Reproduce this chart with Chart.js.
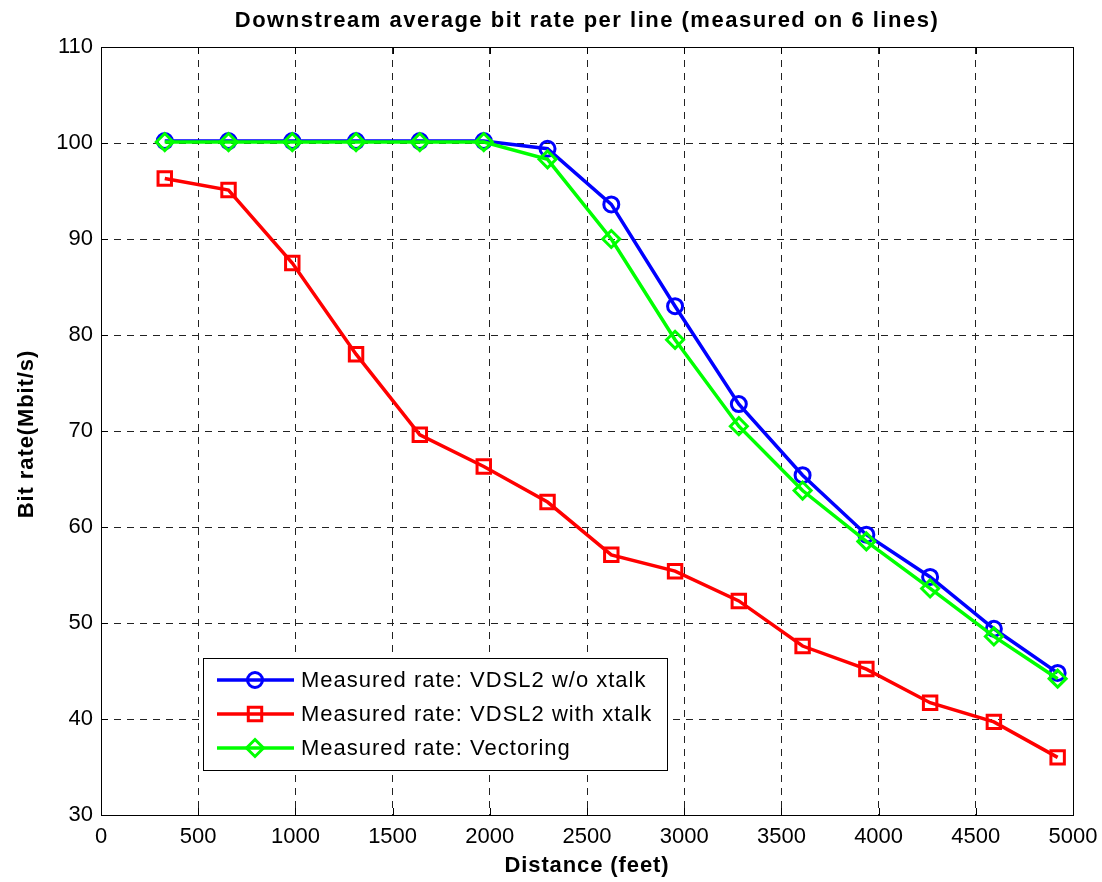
<!DOCTYPE html>
<html>
<head>
<meta charset="utf-8">
<script src="https://cdn.jsdelivr.net/npm/chart.js@4"></script>
<style>
  html, body { margin: 0; padding: 0; background: #fff; }
  #wrap { width: 1102px; height: 882px; }
</style>
</head>
<body>
<div id="wrap"><canvas id="c" width="1102" height="882"></canvas></div>
<script>
const distances = [328, 656, 984, 1312, 1640, 1969, 2297, 2625, 2953, 3281, 3609, 3937, 4265, 4593, 4921];
const rateNoXtalk = [100.2, 100.2, 100.2, 100.2, 100.2, 100.2, 99.4, 93.6, 83.0, 72.8, 65.4, 59.2, 54.8, 49.4, 44.8];
const rateWithXtalk = [96.3, 95.1, 87.5, 78.0, 69.6, 66.3, 62.6, 57.1, 55.4, 52.3, 47.6, 45.2, 41.7, 39.7, 36.0];
const rateVectoring = [100.1, 100.1, 100.1, 100.1, 100.1, 100.1, 98.3, 90.0, 79.5, 70.5, 63.8, 58.5, 53.6, 48.6, 44.2];
const seriesLabels = ['Measured rate: VDSL2 w/o xtalk', 'Measured rate: VDSL2 with xtalk', 'Measured rate: Vectoring'];
const titleText = 'Downstream average bit rate per line (measured on 6 lines)';
const xTitle = 'Distance (feet)';
const yTitle = 'Bit rate(Mbit/s)';

const FONT = "'Liberation Sans', Arial, Helvetica, sans-serif";

function pts(ys) { return distances.map((x, i) => ({x: x, y: ys[i]})); }

function setSpacing(ctx, px) { if ('letterSpacing' in ctx) ctx.letterSpacing = px + 'px'; }

function drawMarker(ctx, style, x, y, r, color) {
  ctx.save();
  ctx.strokeStyle = color;
  ctx.lineWidth = 3;
  ctx.beginPath();
  if (style === 'circle') {
    ctx.arc(x, y, r, 0, Math.PI * 2);
  } else if (style === 'rect') {
    const s = r * Math.SQRT1_2;
    ctx.rect(x - s, y - s, 2 * s, 2 * s);
  } else {
    ctx.moveTo(x, y - r); ctx.lineTo(x + r, y); ctx.lineTo(x, y + r); ctx.lineTo(x - r, y); ctx.closePath();
  }
  ctx.stroke();
  ctx.restore();
}

const framePlugin = {
  id: 'frame',
  afterDatasetsDraw(chart) {
    const {ctx, chartArea: a, scales} = chart;
    ctx.save();
    ctx.strokeStyle = '#000';
    ctx.lineWidth = 1;
    ctx.setLineDash([]);
    ctx.beginPath();
    const tl = 7;
    scales.x.ticks.forEach(t => {
      const px = Math.round(scales.x.getPixelForValue(t.value)) + 0.5;
      ctx.moveTo(px, a.bottom); ctx.lineTo(px, a.bottom - tl);
      ctx.moveTo(px, a.top); ctx.lineTo(px, a.top + tl);
    });
    scales.y.ticks.forEach(t => {
      const py = Math.round(scales.y.getPixelForValue(t.value)) + 0.5;
      ctx.moveTo(a.left, py); ctx.lineTo(a.left + tl, py);
      ctx.moveTo(a.right, py); ctx.lineTo(a.right - tl, py);
    });
    ctx.stroke();
    ctx.strokeRect(Math.round(a.left) + 0.5, Math.round(a.top) + 0.5, Math.round(a.right - a.left), Math.round(a.bottom - a.top));
    ctx.restore();
  },
  afterDraw(chart) {
    const {ctx, chartArea: a} = chart;
    const cx = (a.left + a.right) / 2;
    ctx.save();
    ctx.fillStyle = '#000';
    ctx.textAlign = 'center';
    ctx.textBaseline = 'middle';
    // chart title
    ctx.font = 'bold 22px ' + FONT;
    setSpacing(ctx, 1.5);
    ctx.fillText(titleText, cx, 21);
    // axis titles
    setSpacing(ctx, 0.9);
    ctx.fillText(xTitle, cx, 866);
    ctx.save();
    ctx.translate(27, (a.top + a.bottom) / 2 + 3);
    ctx.rotate(-Math.PI / 2);
    ctx.fillText(yTitle, 0, 0);
    ctx.restore();
    ctx.restore();

    // legend
    const bx = a.left + 102, by = a.bottom - 157, bw = 464, bh = 112;
    ctx.save();
    ctx.fillStyle = '#fff';
    ctx.fillRect(bx, by, bw, bh);
    ctx.strokeStyle = '#000';
    ctx.lineWidth = 1;
    ctx.strokeRect(Math.round(bx) + 0.5, Math.round(by) + 0.5, bw, bh);
    ctx.font = '22px ' + FONT;
    setSpacing(ctx, 1.0);
    ctx.textBaseline = 'middle';
    chart.data.datasets.forEach((ds, i) => {
      const cy = by + 22 + i * 34;
      ctx.strokeStyle = ds.borderColor;
      ctx.lineWidth = 3.5;
      ctx.beginPath();
      ctx.moveTo(bx + 14, cy); ctx.lineTo(bx + 91, cy);
      ctx.stroke();
      drawMarker(ctx, ds.pointStyle, bx + 52, cy, ds.pointRadius, ds.borderColor);
      ctx.fillStyle = '#000';
      ctx.fillText(ds.label, bx + 98, cy + 1);
    });
    ctx.restore();
  }
};

const datasets = [
  {label: seriesLabels[0], data: pts(rateNoXtalk), borderColor: '#0000ff', pointStyle: 'circle', pointRadius: 7.5, order: 3},
  {label: seriesLabels[1], data: pts(rateWithXtalk), borderColor: '#ff0000', pointStyle: 'rect', pointRadius: 9.5, order: 2},
  {label: seriesLabels[2], data: pts(rateVectoring), borderColor: '#00ff00', pointStyle: 'rectRot', pointRadius: 8.5, order: 1}
].map(d => Object.assign({
  borderWidth: 3.5,
  pointBorderWidth: 3,
  pointBackgroundColor: 'rgba(0,0,0,0)',
  pointBorderColor: d.borderColor,
  pointHoverRadius: d.pointRadius,
  tension: 0,
  fill: false
}, d));

const tickFont = {family: FONT, size: 22};

new Chart(document.getElementById('c'), {
  type: 'line',
  data: {datasets: datasets},
  plugins: [framePlugin],
  options: {
    responsive: false,
    animation: false,
    layout: {padding: {left: 0, right: 29, top: 47, bottom: 0}},
    plugins: {
      legend: {display: false},
      tooltip: {enabled: false},
      title: {display: false}
    },
    scales: {
      x: {
        type: 'linear',
        min: 0, max: 5000,
        ticks: {stepSize: 500, color: '#000', font: tickFont, padding: 9, maxRotation: 0, callback: v => String(v)},
        grid: {color: '#222', lineWidth: 1, drawTicks: false},
        border: {display: false, dash: [7, 6]},
        afterFit(s) { s.height = 67; s.paddingLeft = 0; s.paddingRight = 0; }
      },
      y: {
        min: 30, max: 110,
        ticks: {stepSize: 10, color: '#000', font: tickFont, padding: 8, callback: v => String(v)},
        grid: {color: '#222', lineWidth: 1, drawTicks: false},
        border: {display: false, dash: [7, 6]},
        afterFit(s) { s.width = 101; s.paddingTop = 0; s.paddingBottom = 0; }
      }
    }
  }
});
</script>
</body>
</html>
